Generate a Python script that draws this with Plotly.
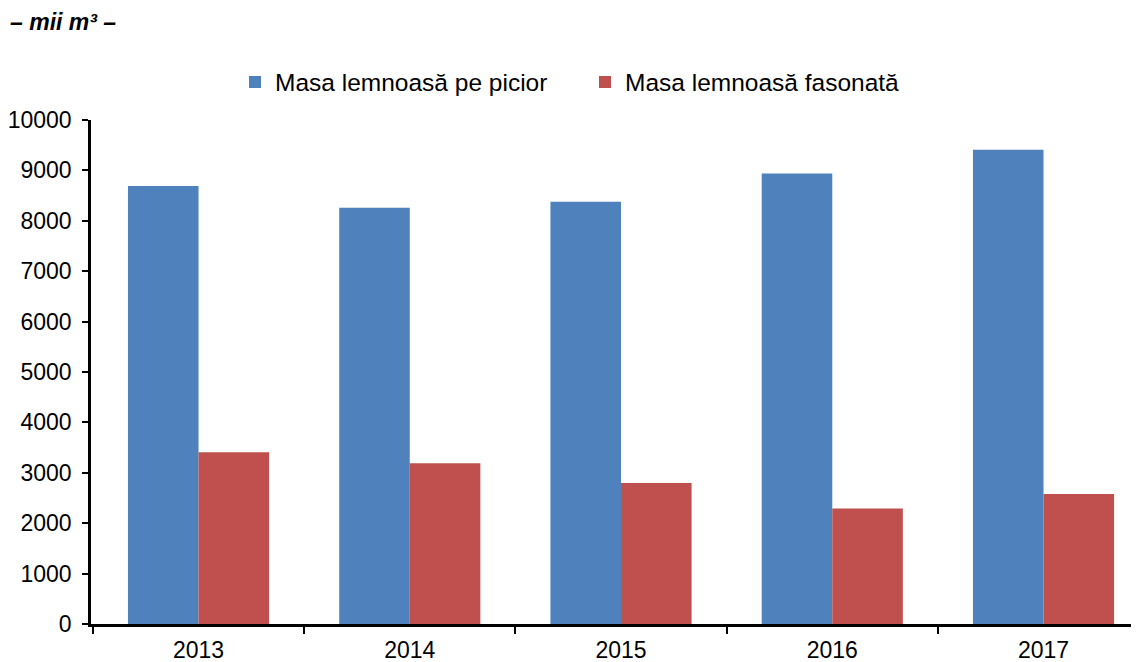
import plotly.graph_objects as go

years = ["2013", "2014", "2015", "2016", "2017"]
pe_picior = [8690, 8260, 8380, 8940, 9410]
fasonata = [3410, 3190, 2800, 2290, 2580]
series_names = ["Masa lemnoasă pe picior", "Masa lemnoasă fasonată"]
y_ticks = [0, 1000, 2000, 3000, 4000, 5000, 6000, 7000, 8000, 9000, 10000]

W, H = 1139, 662
OFF = 8  # page body margin offset
L, T = 91 - OFF, 120 - OFF
B = H - (624 - OFF)
R = OFF
PH = H - T - B
PW = W - L - R

fig = go.Figure()
fig.add_trace(go.Bar(x=years, y=pe_picior, name=series_names[0],
                     marker=dict(color="#4F81BD", line=dict(width=0))))
fig.add_trace(go.Bar(x=years, y=fasonata, name=series_names[1],
                     marker=dict(color="#C0504D", line=dict(width=0))))

fig.update_layout(
    width=W, height=H,
    margin=dict(l=L, r=R, t=T, b=B, pad=0, autoexpand=False),
    paper_bgcolor="white", plot_bgcolor="white",
    font=dict(family="Liberation Sans, Arial, sans-serif", size=23, color="black"),
    barmode="group", bargap=0.332, bargroupgap=0,
    showlegend=True,
    legend=dict(orientation="h", x=(235 - OFF - L) / PW, xanchor="left",
                y=1 + (T - (82 - OFF)) / PH, yanchor="middle", font=dict(size=24.5),
                itemwidth=30, entrywidth=305, entrywidthmode="pixels", traceorder="normal"),
    annotations=[dict(text="<b><i>– mii m³ –</i></b>", xref="paper", yref="paper",
                      x=-L / PW, y=1 + (T - (22 - OFF)) / PH, xanchor="left",
                      yanchor="middle", showarrow=False, font=dict(size=23))],
)
fig.update_xaxes(
    type="category", range=[-0.509, 4.452], automargin=False,
    showline=True, linecolor="black", linewidth=2.5,
    ticks="outside", tickson="boundaries", ticklen=7, tickwidth=2, tickcolor="black",
    ticklabelstandoff=4,
    showgrid=False, zeroline=False,
)
fig.update_yaxes(
    range=[0, 10000], tickvals=y_ticks, ticktext=[str(v) for v in y_ticks], automargin=False,
    showline=True, linecolor="black", linewidth=2.5,
    ticks="outside", ticklen=6, tickwidth=2, tickcolor="black",
    ticklabelstandoff=6,
    showgrid=False, zeroline=False,
)

fig.write_html("out.html")
